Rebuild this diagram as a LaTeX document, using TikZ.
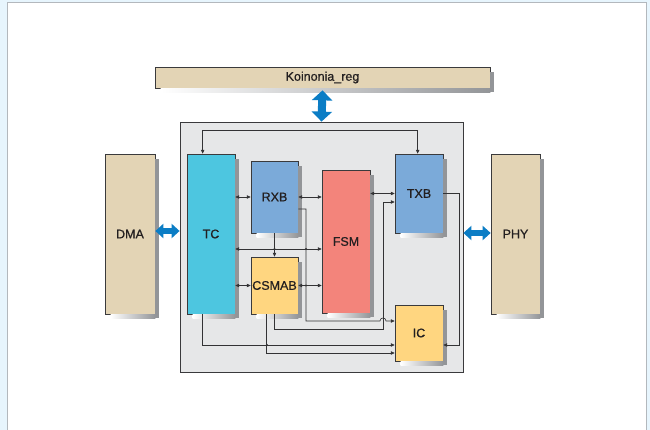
\documentclass[tikz,border=0pt]{standalone}
\usepackage{fontspec}
\setmainfont{Liberation Sans}
\newfontfamily\lblfont[FakeBold=0.7]{Liberation Sans}
\usetikzlibrary{arrows.meta,calc}
\definecolor{bgblue}{HTML}{E7F5FD}
\definecolor{panelline}{HTML}{B3B8BD}
\definecolor{tan}{HTML}{E3D4B5}
\definecolor{coregray}{HTML}{E6E7E8}
\definecolor{tccyan}{HTML}{4DC6E0}
\definecolor{boxblue}{HTML}{7BAAD9}
\definecolor{salmon}{HTML}{F3847B}
\definecolor{yellowbox}{HTML}{FFD680}
\definecolor{arrblue}{HTML}{0B7DC5}
\definecolor{boxline}{HTML}{3A3A3C}
\definecolor{cline}{HTML}{333335}
\definecolor{shcol}{HTML}{939598}
\definecolor{txt}{HTML}{231F20}
\newcommand{\dropshadow}[1]{%
  \fill[shcol] ([yshift=-5pt]#1.north east) rectangle ([xshift=4pt,yshift=-4pt]#1.south east);
  \shade[left color=white,right color=shcol] ([xshift=6pt]#1.south west) rectangle ([yshift=-4pt]#1.south east);
}
\begin{document}
\begin{tikzpicture}[x=1pt,y=-1pt,
  blk/.style={draw=boxline, line width=0.7pt, inner sep=0pt, font=\lblfont\fontsize{12.5}{14}\selectfont, text=txt},
  conn/.style={draw=cline, line width=0.6pt},
  >={Triangle[length=3.8pt,width=3.4pt]},
  bigv/.style={draw=arrblue, line width=8pt, {Triangle[length=10pt,width=20pt]}-{Triangle[length=10pt,width=20pt]}},
  bigh/.style={draw=arrblue, line width=6pt, {Triangle[length=8pt,width=14pt]}-{Triangle[length=8pt,width=14pt]}},
  jdot/.style={circle, fill=cline, inner sep=0pt, minimum size=2.4pt}]
\useasboundingbox (0,0) rectangle (650,430);
\fill[bgblue] (0,0) rectangle (650,430);
\filldraw[fill=white, draw=panelline, line width=0.8pt] (7.5,2.5) rectangle (646.5,440);

% top register
\node[blk, fill=tan, minimum width=335pt, minimum height=21pt] (reg) at (322.5,77.5) {Koinonia\_reg};
\dropshadow{reg}

% outer blocks
\node[blk, fill=tan, minimum width=50pt, minimum height=160pt] (dma) at (130,234) {DMA};
\dropshadow{dma}
\node[blk, fill=tan, minimum width=49pt, minimum height=160pt] (phy) at (515.5,234) {PHY};
\dropshadow{phy}

% core
\node[draw=boxline, fill=coregray, line width=0.8pt, inner sep=0pt, minimum width=283pt, minimum height=250pt] (core) at (321.5,247) {};

% inner blocks
\node[blk, fill=tccyan, minimum width=48pt, minimum height=160pt] (tc) at (211,234) {TC};
\dropshadow{tc}
\node[blk, fill=boxblue, minimum width=47pt, minimum height=72pt] (rxb) at (274.5,197) {RXB};
\dropshadow{rxb}
\node[blk, fill=yellowbox, minimum width=47pt, minimum height=57pt] (csmab) at (274.5,285.5) {CSMAB};
\dropshadow{csmab}
\node[blk, fill=salmon, minimum width=48pt, minimum height=143pt] (fsm) at (346,241.5) {FSM};
\dropshadow{fsm}
\node[blk, fill=boxblue, minimum width=48pt, minimum height=79pt] (txb) at (419,193.5) {TXB};
\dropshadow{txb}
\node[blk, fill=yellowbox, minimum width=48pt, minimum height=56pt] (ic) at (419,333) {IC};
\dropshadow{ic}

% connectors
\draw[conn,<->] ([xshift=16pt]tc.north west) -- ++(0,-23) -| ([xshift=23pt]txb.north west);
\draw[conn,<->] (tc.east |- rxb.west) -- (rxb.west);
\draw[conn,<->] (rxb.east) -- (fsm.west |- rxb.east);
\draw[conn,<->] (fsm.east |- txb.west) -- (txb.west);
\draw[conn,<->] (tc.east |- 0,249) -- (fsm.west |- 0,249);
\draw[conn,<->] (tc.east |- csmab.west) -- (csmab.west);
\draw[conn,<->] (csmab.east) -- (fsm.west |- csmab.east);
\draw[conn,->] (rxb.south) -- (csmab.north);
\draw[conn,->] (rxb.east |- 0,209) -- (306,209) -- (306,321) -- (380,321) .. controls (380,317) and (386,317) .. (386,321) -- (ic.west |- 0,321);
\draw[conn,->] (csmab.south) -- (274.5,329) -- (383,329) -- (383,202) -- (txb.west |- 0,202);
\draw[conn,->] ([xshift=16pt]tc.south west) |- (ic.west |- 0,345);
\draw[conn,->] ([xshift=16pt]csmab.south west) |- (ic.west |- 0,353);
\draw[conn,->] (txb.east |- 0,193) -- (459,193) |- (ic.east |- 0,345);
\node[jdot] (j1) at (274.5,249) {};
\node[jdot] (j2) at (306,249) {};
\node[jdot] (j3) at (306,285.5) {};
\node[jdot] (j4) at (267,345) {};

% bus arrows
\draw[bigv] ([yshift=-2pt]reg.south) -- (core.north);
\draw[bigh] (dma.east |- 0,231) -- (core.west |- 0,231);
\draw[bigh] (core.east |- 0,233) -- (phy.west |- 0,233);
\end{tikzpicture}
\end{document}
